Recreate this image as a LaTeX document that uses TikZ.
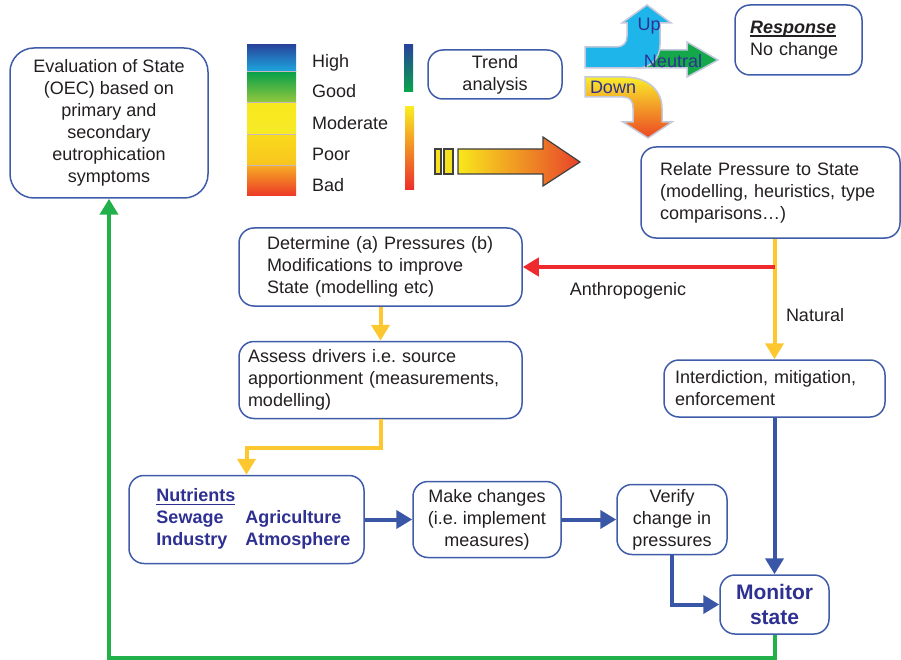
\documentclass[tikz,border=0pt]{standalone}
\usepackage{fontspec}
\setmainfont{Liberation Sans}
\usetikzlibrary{arrows.meta,calc}
\definecolor{boxblue}{HTML}{3F5CA8}
\definecolor{arrblue}{HTML}{3A56A6}
\definecolor{txt}{HTML}{231F20}
\definecolor{navy}{HTML}{2E3192}
\definecolor{ylw}{HTML}{FDC82F}
\definecolor{rd}{HTML}{EE2A2E}
\definecolor{grn}{HTML}{22B04B}
\definecolor{glow}{HTML}{C3C8DA}
\newcommand\myul[1]{\setbox0\hbox{#1}\rlap{\rule[-3.5pt]{\wd0}{1.8pt}}\box0}
\frenchspacing
\begin{document}
\begin{tikzpicture}[x=1pt,y=-1pt,
  font=\fontsize{18}{22}\selectfont, text=txt,
  box/.style={draw=boxblue, line width=1.5pt, rounded corners=15pt, fill=white, inner sep=0pt, align=center},
  lbox/.style={box, align=left},
  lab/.style={inner sep=0pt},
  conn/.style={line width=4pt, -{Triangle[length=16pt,width=18pt]}},
  yarrow/.style={conn, draw=ylw, color=ylw},
  rarrow/.style={conn, draw=rd, color=rd},
  barrow/.style={conn, draw=arrblue, color=arrblue},
  garrow/.style={conn, draw=grn, color=grn},
  bigarrow/.style={draw=black!75, line width=1.2pt}
]
\useasboundingbox (0,0) rectangle (901,660);

% ---------- colour bar ----------
\shade[top color={rgb,255:red,40;green,70;blue,158}, bottom color={rgb,255:red,28;green,170;blue,222}] (247,45) rectangle (296,72);
\shade[top color={rgb,255:red,8;green,160;blue,74}, middle color={rgb,255:red,30;green,165;blue,72}, bottom color={rgb,255:red,150;green,200;blue,60}] (247,72) rectangle (296,103);
\shade[top color={rgb,255:red,248;green,232;blue,30}, bottom color={rgb,255:red,247;green,234;blue,40}] (247,103) rectangle (296,135);
\shade[top color={rgb,255:red,249;green,218;blue,28}, bottom color={rgb,255:red,248;green,196;blue,30}] (247,135) rectangle (296,166);
\shade[top color={rgb,255:red,247;green,170;blue,37}, bottom color={rgb,255:red,236;green,55;blue,38}] (247,166) rectangle (296,196);
\foreach \yy in {72,103,135,166} \draw[line width=1pt, color={rgb,255:red,200;green,185;blue,192}] (247,\yy) -- (296,\yy);

\node[lab, anchor=west] (high) at (312,63) {High};
\node[lab, anchor=west] (good) at (312,91) {Good};
\node[lab, anchor=west] (moderate) at (312,123) {Moderate};
\node[lab, anchor=west] (poor) at (312,154) {Poor};
\node[lab, anchor=west] (bad) at (312,185) {Bad};

\shade[top color={rgb,255:red,39;green,67;blue,154}, middle color={rgb,255:red,29;green,167;blue,222}, bottom color={rgb,255:red,10;green,165;blue,75}] (404,45) rectangle (413,92);
\shade[top color={rgb,255:red,248;green,236;blue,34}, middle color={rgb,255:red,246;green,160;blue,58}, bottom color={rgb,255:red,236;green,45;blue,42}] (405,107) rectangle (414,190);

% ---------- big arrow ----------
\draw[bigarrow, fill={rgb,255:red,247;green,225;blue,30}] (435,149) rectangle (441,174);
\draw[bigarrow, fill={rgb,255:red,247;green,225;blue,30}] (444,149) rectangle (453,174);
\draw[bigarrow, left color={rgb,255:red,248;green,231;blue,28}, middle color={rgb,255:red,247;green,180;blue,32}, right color={rgb,255:red,232;green,67;blue,42}]
  (458,149) -- (543,149) -- (543,137) -- (580,162) -- (543,186) -- (543,174) -- (458,174) -- cycle;

% ---------- trend arrows ----------
\draw[draw=glow, line width=1.5pt, fill={rgb,255:red,20;green,168;blue,74}]
  (636,50) -- (687,50) -- (687,42) -- (718,60) -- (687,77) -- (687,68) -- (636,68) -- cycle;
\draw[draw=glow, line width=1.5pt, fill={rgb,255:red,30;green,182;blue,234}]
  (585,47) -- (616,47) .. controls (623,47) and (627,43) .. (627,36) -- (627,23) -- (622,23) -- (647,5) -- (671,23) -- (660,23) -- (660,45) .. controls (660,58) and (651,68) .. (638,68) -- (585,68) -- cycle;
\draw[draw=glow, line width=1.5pt, top color={rgb,255:red,249;green,236;blue,43}, middle color={rgb,255:red,247;green,190;blue,35}, bottom color={rgb,255:red,236;green,70;blue,36}]
  (585,77) -- (625,77) .. controls (647,77) and (662,90) .. (662,108) -- (662,122) -- (672,122) -- (648,138) -- (623,122) -- (633,122) -- (633,108) .. controls (633,101) and (630,97) .. (623,97) -- (585,97) -- cycle;
\node[lab, text=navy] (up) at (649,26) {Up};
\node[lab, text=navy] (neutral) at (673,61) {Neutral};
\node[lab, text=navy] (down) at (613,87) {Down};

% ---------- boxes ----------
\node[box, rounded corners=24pt, minimum width=198pt, minimum height=150pt] (eval) at (109,123)
  {Evaluation of State\\(OEC) based on\\primary and\\secondary\\eutrophication\\symptoms};
\node[box, minimum width=134pt, minimum height=49pt] (trend) at (495,74.5) {Trend\\analysis};
\node[lbox, minimum height=70pt, inner xsep=15pt, text width=97pt] (resp) at (798.5,40)
  {\myul{\textbf{\textit{Response}}}\\No change};
\node[lbox, minimum height=91pt, inner xsep=19pt, text width=221pt] (relate) at (770.5,192.5)
  {Relate Pressure to State\\(modelling, heuristics, type\\comparisons\ldots)};
\node[lbox, minimum height=78pt, inner xsep=28pt, text width=227pt] (determine) at (380.5,267)
  {Determine (a) Pressures (b)\\Modifications to improve\\State (modelling etc)};
\node[lbox, minimum height=77pt, inner xsep=9pt, text width=265pt] (assess) at (380.5,380)
  {Assess drivers i.e. source\\apportionment (measurements,\\modelling)};
\node[lbox, minimum height=57pt, inner xsep=11pt, text width=199pt] (inter) at (774.5,388.5)
  {Interdiction, mitigation,\\enforcement};
\node[box, minimum width=235pt, minimum height=88pt, font=\fontsize{18}{22}\selectfont\bfseries, text=navy] (nutr) at (246.5,519.5)
  {\hspace*{14pt}\begin{tabular}{@{}l@{\hspace{10pt}}l@{}}\myul{Nutrients}&\\Sewage&Agriculture\\Industry&Atmosphere\end{tabular}};
\node[box, minimum width=148pt, minimum height=76pt] (make) at (487,519.5) {Make changes\\(i.e. implement\\measures)};
\node[box, minimum width=110pt, minimum height=70pt] (verify) at (672,519.5) {Verify\\change in\\pressures};
\node[box, minimum width=109pt, minimum height=59pt, font=\fontsize{21}{25}\selectfont\bfseries, text=navy] (monitor) at (774.5,604.5) {Monitor\\state};

% ---------- connectors ----------
\draw[yarrow] (relate.south -| inter.north) -- (inter.north);
\draw[rarrow] (inter.north |- determine.east) -- (determine.east);
\draw[yarrow] (determine.south) -- (assess.north);
\draw[yarrow] (assess.south) -- ++(0,29) -| (nutr.north);
\draw[barrow] (nutr.east) -- (make.west);
\draw[barrow] (make.east) -- (verify.west);
\draw[barrow] (verify.south) |- (monitor.west);
\draw[barrow] (inter.south) -- (monitor.north);
\draw[garrow] (monitor.south) -- ++(0,23) -| (eval.south);

\node[lab] (anthro) at (628,291) {Anthropogenic};
\node[lab] (natural) at (815,315) {Natural};
\end{tikzpicture}
\end{document}
